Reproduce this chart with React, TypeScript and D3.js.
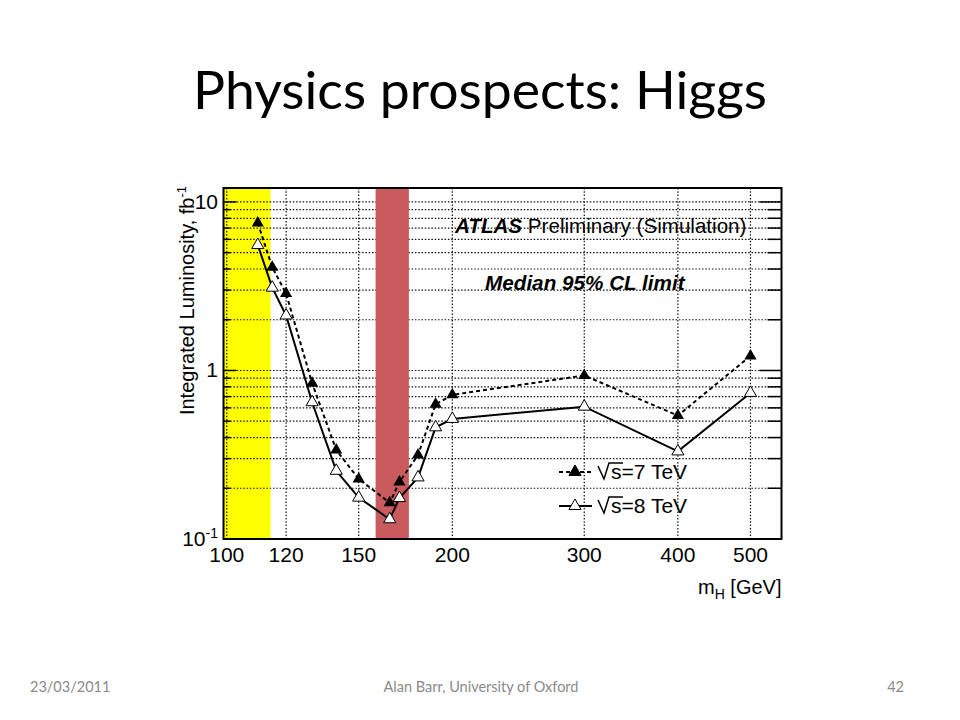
import React, { useEffect, useRef } from 'react';
import * as d3 from 'd3';

// Higgs mass points [GeV]
const masses = [110, 115, 120, 130, 140, 150, 165, 170, 180, 190, 200, 300, 400, 500];
// median 95% CL limit, integrated luminosity [fb^-1]
const lumi7TeV = [7.5, 4.1, 2.86, 0.84, 0.337, 0.227, 0.164, 0.218, 0.315, 0.63, 0.717, 0.934, 0.54, 1.22];
const lumi8TeV = [5.55, 3.1, 2.12, 0.648, 0.254, 0.176, 0.131, 0.175, 0.232, 0.46, 0.516, 0.61, 0.331, 0.736];

const xTicks = [100, 120, 150, 200, 300, 400, 500];
const lepBand = [99, 114.4];
const tevatronBand = [158, 175];

const chartFont = "'Liberation Sans', Arial, sans-serif";
const slideFont = "Lato, 'Open Sans', sans-serif";

const App: React.FC = () => {
  const svgRef = useRef<SVGSVGElement>(null);

  useEffect(() => {
    if (!svgRef.current) return;
    const svg = d3.select(svgRef.current);
    svg.selectAll('*').remove();

    const frame = { left: 223.5, right: 781.5, top: 188, bottom: 539 };

    const x = d3.scaleLog().domain([99, 550]).range([frame.left, frame.right]);
    const y = d3.scaleLog().domain([0.1, 12.1]).range([frame.bottom, frame.top]);

    const majorY = [0.1, 1, 10];
    const minorY: number[] = [];
    [0.1, 1].forEach(dec => {
      for (let k = 2; k <= 9; k++) minorY.push(dec * k);
    });
    const allY = [...minorY, 1, 10];

    // slide title
    svg.append('text')
      .attr('x', 480).attr('y', 109)
      .attr('text-anchor', 'middle')
      .attr('font-family', slideFont)
      .attr('font-size', 52)
      .attr('textLength', 574)
      .attr('lengthAdjust', 'spacingAndGlyphs')
      .text('Physics prospects: Higgs');

    // LEP exclusion band (under grid)
    svg.append('rect')
      .attr('x', x(lepBand[0]))
      .attr('y', frame.top)
      .attr('width', x(lepBand[1]) - x(lepBand[0]))
      .attr('height', frame.bottom - frame.top)
      .attr('fill', '#ffff00');

    // grid
    const grid = svg.append('g')
      .attr('stroke', '#111')
      .attr('stroke-width', 1.2)
      .attr('stroke-dasharray', '1.5,1.8');

    grid.selectAll('line.h')
      .data(allY)
      .enter().append('line')
      .attr('x1', frame.left).attr('x2', frame.right)
      .attr('y1', d => y(d)).attr('y2', d => y(d));

    grid.selectAll('line.v')
      .data(xTicks)
      .enter().append('line')
      .attr('y1', frame.top).attr('y2', frame.bottom)
      .attr('x1', d => x(d)).attr('x2', d => x(d));

    // Tevatron exclusion band (over grid)
    svg.append('rect')
      .attr('x', x(tevatronBand[0]))
      .attr('y', frame.top)
      .attr('width', x(tevatronBand[1]) - x(tevatronBand[0]))
      .attr('height', frame.bottom - frame.top)
      .attr('fill', '#c95a5d');

    // axis ticks (inside the frame)
    const ticks = svg.append('g').attr('stroke', '#000').attr('stroke-width', 1.5);
    ticks.selectAll('line.lmaj').data(majorY.slice(1)).enter().append('line')
      .attr('x1', frame.left).attr('x2', frame.left + 13)
      .attr('y1', d => y(d)).attr('y2', d => y(d));
    ticks.selectAll('line.lmin').data(minorY).enter().append('line')
      .attr('x1', frame.left).attr('x2', frame.left + 7)
      .attr('y1', d => y(d)).attr('y2', d => y(d));
    ticks.selectAll('line.rmaj').data(majorY.slice(1)).enter().append('line')
      .attr('x1', frame.right).attr('x2', frame.right - 22)
      .attr('y1', d => y(d)).attr('y2', d => y(d));
    ticks.selectAll('line.rmin').data(minorY).enter().append('line')
      .attr('x1', frame.right).attr('x2', frame.right - 14)
      .attr('y1', d => y(d)).attr('y2', d => y(d));

    // frame
    svg.append('rect')
      .attr('x', frame.left).attr('y', frame.top)
      .attr('width', frame.right - frame.left)
      .attr('height', frame.bottom - frame.top)
      .attr('fill', 'none')
      .attr('stroke', '#000')
      .attr('stroke-width', 2);

    // series
    const line = d3.line<[number, number]>()
      .x(d => x(d[0]))
      .y(d => y(d[1]));

    const s7 = masses.map((m, i) => [m, lumi7TeV[i]] as [number, number]);
    const s8 = masses.map((m, i) => [m, lumi8TeV[i]] as [number, number]);

    svg.append('path')
      .datum(s8)
      .attr('d', line)
      .attr('fill', 'none')
      .attr('stroke', '#000')
      .attr('stroke-width', 2);

    svg.append('path')
      .datum(s7)
      .attr('d', line)
      .attr('fill', 'none')
      .attr('stroke', '#000')
      .attr('stroke-width', 2)
      .attr('stroke-dasharray', '4,3');

    const tri = d3.symbol().type(d3.symbolTriangle).size(64);

    svg.append('g').selectAll('path')
      .data(s8)
      .enter().append('path')
      .attr('d', tri)
      .attr('transform', d => `translate(${x(d[0])},${y(d[1])})`)
      .attr('fill', '#fff')
      .attr('stroke', '#000')
      .attr('stroke-width', 1);

    svg.append('g').selectAll('path')
      .data(s7)
      .enter().append('path')
      .attr('d', tri)
      .attr('transform', d => `translate(${x(d[0])},${y(d[1])})`)
      .attr('fill', '#000');

    // y tick labels
    const yLab = svg.append('g')
      .attr('font-family', chartFont)
      .attr('font-size', 21)
      .attr('fill', '#000');
    yLab.append('text').attr('x', 218).attr('y', y(10) + 7).attr('text-anchor', 'end').text('10');
    yLab.append('text').attr('x', 218).attr('y', y(1) + 7).attr('text-anchor', 'end').text('1');
    const tm = yLab.append('text').attr('x', 218).attr('y', y(0.1) + 7).attr('text-anchor', 'end');
    tm.append('tspan').text('10');
    tm.append('tspan').attr('dy', -8).attr('font-size', 14).text('-1');

    // x tick labels
    svg.append('g')
      .attr('font-family', chartFont)
      .attr('font-size', 21)
      .selectAll('text')
      .data(xTicks)
      .enter().append('text')
      .attr('x', d => x(d))
      .attr('y', 562)
      .attr('text-anchor', 'middle')
      .text(d => d);

    // axis titles
    const xt = svg.append('text')
      .attr('x', frame.right).attr('y', 594)
      .attr('text-anchor', 'end')
      .attr('font-family', chartFont)
      .attr('font-size', 20);
    xt.append('tspan').text('m');
    xt.append('tspan').attr('dy', 5).attr('font-size', 14).text('H');
    xt.append('tspan').attr('dy', -5).text(' [GeV]');

    const yt = svg.append('text')
      .attr('transform', `translate(194,${frame.top - 2}) rotate(-90)`)
      .attr('text-anchor', 'end')
      .attr('font-family', chartFont)
      .attr('font-size', 20);
    yt.append('tspan').text('Integrated Luminosity, fb');
    yt.append('tspan').attr('dy', -8).attr('font-size', 13).text('-1');

    // labels in the frame
    const atlas = svg.append('text')
      .attr('x', 455).attr('y', 233)
      .attr('font-family', chartFont)
      .attr('font-size', 20.6);
    atlas.append('tspan').attr('font-weight', 'bold').attr('font-style', 'italic').text('ATLAS');
    atlas.append('tspan').text(' Preliminary (Simulation)');

    svg.append('text')
      .attr('x', 485).attr('y', 290)
      .attr('font-family', chartFont)
      .attr('font-size', 20.7)
      .attr('font-weight', 'bold')
      .attr('font-style', 'italic')
      .text('Median 95% CL limit');

    // legend
    const legend = [
      { label: '7 TeV', dashed: true, filled: true, yPos: 472 },
      { label: '8 TeV', dashed: false, filled: false, yPos: 506 },
    ];
    const lg = svg.append('g');
    legend.forEach(item => {
      lg.append('line')
        .attr('x1', 559).attr('x2', 592)
        .attr('y1', item.yPos).attr('y2', item.yPos)
        .attr('stroke', '#000')
        .attr('stroke-width', 2)
        .attr('stroke-dasharray', item.dashed ? '4,3' : null);
      lg.append('path')
        .attr('d', tri)
        .attr('transform', `translate(575,${item.yPos})`)
        .attr('fill', item.filled ? '#000' : '#fff')
        .attr('stroke', '#000')
        .attr('stroke-width', 1);
      const b = item.yPos + 7;
      lg.append('path')
        .attr('d', `M598,${b - 13} L604,${b} L609,${b - 16} H623`)
        .attr('fill', 'none')
        .attr('stroke', '#000')
        .attr('stroke-width', 1.5);
      lg.append('text')
        .attr('x', 611).attr('y', b)
        .attr('font-family', chartFont)
        .attr('font-size', 21)
        .text(`s=${item.label}`);
    });

    // footer
    const foot = svg.append('g')
      .attr('font-family', slideFont)
      .attr('font-size', 14.5)
      .attr('fill', '#8a8a8a');
    foot.append('text').attr('x', 30).attr('y', 692).text('23/03/2011');
    foot.append('text').attr('x', 481).attr('y', 692).attr('text-anchor', 'middle').text('Alan Barr, University of Oxford');
    foot.append('text').attr('x', 904).attr('y', 692).attr('text-anchor', 'end').text('42');
  }, []);

  return (
    <div style={{ position: 'absolute', left: 0, top: 0, width: 960, height: 720, background: '#fff' }}>
      <svg ref={svgRef} width={960} height={720} />
    </div>
  );
};

export default App;
